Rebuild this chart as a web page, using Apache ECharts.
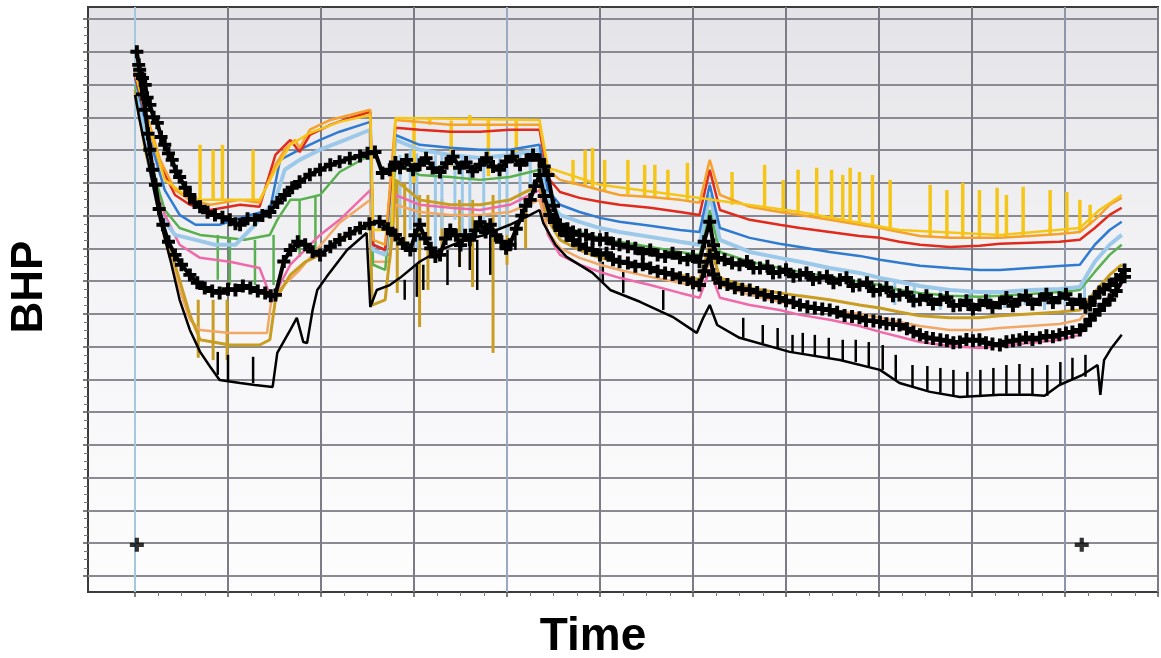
<!DOCTYPE html>
<html>
<head>
<meta charset="utf-8">
<script src="https://cdn.jsdelivr.net/npm/echarts@6/dist/echarts.min.js"></script>
<style>
  html, body { margin: 0; padding: 0; background: #ffffff; }
  #chart { width: 1161px; height: 658px; }
</style>
</head>
<body>
<div id="chart"></div>
<script>
// time in days (grid every 100), BHP in psi (grid every 100)
const timeMax = 1100;
const bhpMax = 1700;

// simulated BHP curves: [time, BHP]
const pink = [[0,1478],[16,1255],[32,1102],[48,1011],[70,971],[102,959],[134,940],[147,843],[167,950],[199,1041],[220,1087],[253,1178],[255,995],[274,980],[280,1163],[306,1133],[339,1124],[371,1117],[403,1133],[435,1178],[444,1041],[457,980],[478,950],[500,928],[521,910],[554,888],[586,864],[607,849],[618,934],[629,849],[661,827],[693,812],[715,797],[747,782],[779,763],[801,745],[822,730],[844,714],[876,702],[908,696],[930,702],[962,711],[994,721],[1016,736],[1032,797],[1048,858],[1061,888]];
const tan = [[0,1468],[16,1240],[32,1026],[48,873],[59,782],[70,751],[102,742],[142,742],[147,852],[177,934],[220,1078],[253,1148],[255,959],[274,959],[280,1133],[306,1111],[339,1102],[371,1102],[403,1111],[435,1148],[444,1050],[457,1001],[478,971],[500,950],[521,934],[554,913],[586,895],[607,882],[618,959],[629,888],[661,858],[693,837],[715,827],[747,812],[779,800],[801,788],[822,775],[844,763],[876,751],[908,751],[930,757],[962,763],[994,769],[1016,782],[1032,843],[1048,888],[1061,919]];
const gold = [[0,1484],[11,1301],[27,1102],[43,950],[59,797],[70,721],[102,705],[134,705],[145,721],[151,843],[167,919],[183,959],[199,980],[220,1026],[253,1072],[255,827],[269,843],[276,1026],[280,1209],[306,1148],[339,1133],[371,1133],[403,1148],[435,1194],[444,1087],[457,1026],[478,995],[500,971],[521,959],[554,940],[586,919],[607,904],[618,1011],[629,910],[661,879],[693,864],[715,855],[747,843],[779,827],[801,818],[822,806],[844,794],[876,788],[908,788],[930,794],[962,800],[994,806],[1016,812],[1032,867],[1048,919],[1061,950]];
const green = [[0,1499],[16,1270],[32,1117],[48,1062],[70,1041],[118,1026],[145,1041],[153,1087],[167,1148],[177,1148],[199,1163],[220,1233],[253,1285],[256,950],[269,934],[280,1255],[306,1224],[339,1218],[371,1209],[403,1218],[435,1240],[444,1117],[457,1072],[478,1050],[500,1032],[521,1020],[554,1004],[586,989],[607,980],[618,1117],[629,989],[661,959],[693,940],[715,928],[747,913],[779,898],[801,888],[822,873],[844,864],[876,855],[908,852],[930,855],[962,861],[994,867],[1016,873],[1032,928],[1048,980],[1061,1011]];
const lightBlue = [[0,1545],[5,1453],[16,1240],[27,1102],[43,1041],[65,1026],[86,1011],[108,1011],[129,1072],[151,1148],[161,1240],[177,1270],[199,1301],[226,1331],[253,1362],[256,995],[269,980],[280,1331],[306,1301],[339,1285],[371,1276],[403,1285],[435,1301],[444,1148],[457,1102],[478,1081],[500,1062],[521,1050],[554,1035],[586,1020],[607,1011],[618,1163],[629,1026],[661,989],[693,971],[715,959],[747,940],[779,925],[801,910],[822,898],[844,885],[876,873],[908,867],[930,867],[962,873],[994,876],[1016,882],[1032,959],[1048,1011],[1061,1041]];
const blue = [[0,1520],[16,1331],[32,1178],[48,1102],[65,1072],[91,1072],[124,1102],[145,1117],[156,1270],[177,1301],[199,1331],[220,1356],[253,1386],[256,1011],[269,995],[280,1346],[306,1316],[339,1307],[371,1301],[403,1301],[435,1316],[444,1178],[457,1133],[478,1111],[500,1093],[521,1081],[554,1069],[586,1056],[607,1050],[618,1194],[629,1062],[661,1032],[693,1014],[715,1004],[747,989],[779,977],[801,965],[822,956],[844,947],[876,940],[908,934],[930,934],[962,940],[994,946],[1016,950],[1032,1011],[1048,1056],[1061,1081]];
const red = [[0,1530],[11,1407],[27,1255],[43,1163],[59,1133],[81,1117],[113,1133],[134,1127],[151,1285],[167,1331],[177,1294],[188,1346],[210,1377],[231,1398],[253,1417],[256,1011],[269,995],[280,1368],[306,1362],[339,1356],[371,1356],[403,1362],[435,1362],[444,1215],[457,1172],[478,1154],[500,1142],[521,1133],[554,1124],[586,1111],[607,1102],[618,1240],[629,1117],[661,1087],[693,1072],[715,1062],[747,1050],[779,1038],[801,1032],[822,1020],[844,1011],[876,1004],[908,1008],[930,1014],[962,1017],[994,1020],[1016,1026],[1032,1062],[1048,1102],[1061,1124]];
const orange = [[0,1545],[11,1423],[27,1270],[43,1178],[59,1148],[81,1133],[113,1148],[134,1139],[151,1255],[161,1301],[172,1331],[177,1307],[188,1362],[210,1392],[231,1407],[253,1423],[256,1026],[269,1011],[280,1392],[306,1386],[339,1377],[371,1377],[403,1377],[435,1377],[444,1240],[457,1209],[478,1194],[500,1178],[521,1163],[554,1157],[586,1148],[607,1139],[618,1270],[629,1163],[661,1127],[693,1111],[715,1102],[747,1087],[779,1072],[801,1062],[822,1050],[844,1038],[876,1032],[908,1032],[930,1032],[962,1038],[994,1044],[1016,1050],[1032,1087],[1048,1133],[1061,1154]];
const yellow = [[0,1539],[16,1362],[32,1209],[54,1163],[70,1148],[102,1148],[134,1148],[151,1240],[167,1316],[188,1352],[220,1386],[253,1407],[256,1056],[276,1056],[280,1398],[435,1392],[444,1246],[500,1194],[607,1154],[715,1111],[822,1056],[930,1041],[1016,1062],[1037,1117],[1061,1163]];
const blackLine = [[0,1468],[5,1392],[16,1240],[27,1087],[38,965],[48,843],[59,751],[70,684],[81,638],[91,598],[113,589],[129,583],[148,577],[153,681],[167,751],[174,788],[181,714],[185,711],[191,812],[196,873],[206,913],[228,995],[249,1047],[253,821],[260,873],[274,888],[285,910],[306,959],[328,995],[355,1026],[376,1041],[403,1072],[425,1102],[435,1117],[439,1078],[452,1011],[464,974],[492,925],[511,873],[543,837],[578,791],[604,742],[611,788],[618,827],[626,766],[650,727],[704,684],[758,659],[801,629],[822,589],[855,562],[887,546],[930,553],[962,553],[978,550],[994,583],[1019,614],[1035,644],[1038,553],[1042,659],[1050,696],[1061,736]];

// observed BHP (plus markers): [time, BHP]
const obsUpper = [[2,1600],[4,1560],[5,1545],[8,1520],[11,1499],[13,1460],[16,1438],[20,1400],[24,1383],[28,1340],[32,1316],[36,1290],[40,1270],[44,1235],[48,1218],[54,1185],[59,1163],[64,1140],[70,1127],[78,1110],[86,1102],[94,1095],[102,1087],[108,1075],[113,1072],[121,1090],[129,1087],[137,1100],[145,1111],[153,1140],[161,1163],[169,1185],[177,1203],[188,1225],[199,1240],[210,1255],[220,1264],[231,1275],[242,1282],[250,1290],[258,1294],[266,1230],[274,1240],[280,1262],[285,1246],[292,1270],[299,1240],[306,1255],[313,1275],[320,1245],[328,1233],[335,1260],[342,1280],[349,1246],[356,1262],[363,1235],[371,1255],[378,1275],[385,1250],[392,1240],[399,1265],[406,1280],[414,1255],[421,1270],[428,1285],[435,1270],[440,1250],[444,1224],[450,1130],[457,1072],[465,1060],[471,1050],[478,1041],[485,1040],[492,1030],[500,1026],[507,1030],[514,1015],[521,1011],[530,1005],[538,1000],[546,985],[554,995],[562,980],[570,975],[578,985],[586,971],[594,965],[600,975],[607,959],[612,1020],[618,1081],[622,1010],[627,971],[634,965],[642,955],[650,950],[658,960],[665,940],[672,940],[680,945],[686,925],[693,928],[700,935],[708,915],[715,919],[722,925],[729,905],[736,910],[744,915],[751,895],[758,904],[765,910],[772,885],[779,888],[787,895],[794,870],[801,873],[808,880],[815,855],[822,858],[830,865],[837,840],[844,843],[851,855],[858,830],[866,843],[873,850],[880,825],[887,827],[894,840],[901,815],[908,827],[915,840],[922,820],[930,833],[937,850],[944,825],[951,843],[958,855],[965,830],[973,843],[980,860],[987,835],[994,849],[1001,860],[1008,830],[1016,843],[1022,820],[1027,827],[1032,850],[1037,867],[1042,875],[1048,888],[1055,905],[1064,934]];
const obsLower = [[5,1530],[8,1470],[11,1423],[14,1350],[16,1301],[19,1240],[22,1194],[26,1120],[30,1072],[36,1020],[43,980],[50,950],[59,919],[67,895],[75,879],[83,870],[91,864],[100,875],[108,873],[116,885],[124,879],[132,870],[140,864],[146,855],[151,858],[160,960],[167,995],[175,1020],[183,1011],[191,990],[199,980],[210,1005],[220,1026],[231,1045],[242,1062],[252,1075],[263,1081],[272,1060],[280,1041],[288,1015],[296,995],[301,1040],[306,1072],[312,1030],[318,1000],[323,975],[328,980],[334,1030],[339,1056],[345,1040],[350,1010],[355,1040],[360,1026],[366,1055],[371,1080],[377,1050],[382,1072],[388,1040],[394,1020],[399,1000],[403,1011],[410,1060],[416,1100],[420,1130],[425,1148],[430,1190],[435,1224],[440,1160],[446,1102],[451,1080],[457,1056],[464,1040],[471,1025],[478,1011],[485,1000],[492,995],[500,980],[507,985],[514,965],[521,959],[530,955],[538,945],[546,950],[554,940],[562,930],[570,925],[578,920],[586,910],[594,905],[600,895],[607,888],[612,930],[618,980],[622,920],[629,895],[637,890],[645,880],[653,875],[661,873],[669,865],[677,858],[685,852],[693,849],[700,840],[708,835],[715,827],[723,822],[731,818],[739,815],[747,812],[755,805],[763,795],[771,792],[779,788],[786,780],[794,778],[801,775],[808,770],[815,768],[822,766],[830,755],[837,745],[844,736],[851,728],[858,725],[866,721],[873,718],[880,712],[887,714],[894,722],[901,718],[908,721],[915,712],[922,708],[930,705],[937,715],[944,718],[951,721],[958,728],[965,722],[973,727],[980,733],[987,730],[994,736],[1001,742],[1008,745],[1016,751],[1022,765],[1027,782],[1032,798],[1037,812],[1042,828],[1048,843],[1055,870],[1064,913]];
const obsSingle = [[2,95],[1018,95]];

// short spikes on the curves: [time, BHP from, BHP to]
const yellowSpikes = [[70,1148,1316],[84,1148,1301],[94,1148,1316],[127,1148,1301],[300,1392,1200],[317,1377,1398],[340,1390,1250],[360,1377,1407],[380,1392,1220],[410,1392,1270],[471,1194,1270],[484,1188,1301],[492,1185,1307],[505,1178,1270],[530,1166,1270],[548,1160,1255],[559,1157,1255],[573,1154,1240],[594,1148,1261],[642,1133,1233],[677,1117,1255],[697,1111,1209],[713,1105,1240],[733,1099,1246],[749,1093,1240],[761,1090,1224],[769,1087,1246],[779,1081,1233],[793,1072,1224],[812,1062,1209],[855,1038,1194],[873,1035,1178],[890,1035,1200],[908,1032,1178],[927,1032,1185],[937,1035,1163],[955,1038,1188],[984,1044,1178],[1002,1047,1172],[1016,1050,1148],[1027,1072,1133]];
const lightBlueSpikes = [[285,1285,1100],[296,1301,1056],[303,1290,1000],[323,1285,995],[330,1290,1060],[344,1285,1087],[352,1280,1000],[360,1276,1026],[375,1280,1080],[392,1285,1056],[400,1285,1040],[414,1285,1117],[425,1290,1150],[817,898,827],[838,888,818],[866,876,812],[898,867,806],[919,867,843],[935,867,818],[957,873,827],[978,876,812],[1000,879,827],[1021,888,843]];
const greenSpikes = [[89,1041,904],[102,1035,888],[129,1026,888],[149,1041,888],[177,1148,974],[194,1163,980]];
const goldSpikes = [[68,843,666],[84,843,659],[99,843,659],[282,1209,864],[290,1200,1000],[306,1163,760],[315,1163,873],[330,1150,1000],[349,1148,943],[363,1148,882],[385,1163,681],[400,1150,950],[420,1160,1000]];
const blackSpikes = [[89,614,684],[100,598,675],[127,589,669],[290,904,843],[303,950,852],[310,950,873],[336,995,888],[349,1004,943],[360,1026,934],[368,1026,873],[382,1041,919],[409,1072,995],[503,898,959],[525,864,934],[568,812,873],[654,727,788],[675,711,766],[691,696,757],[707,684,736],[718,681,742],[731,672,736],[746,666,727],[761,659,721],[775,653,721],[789,641,714],[804,629,705],[818,598,675],[836,577,644],[852,568,641],[866,559,635],[880,550,629],[895,546,623],[909,546,629],[923,550,635],[937,556,644],[951,556,647],[965,553,635],[981,550,644],[995,583,653],[1008,598,666],[1022,608,675]];

const chart = echarts.init(document.getElementById('chart'));

const plus = 'path://M0,3.5H10V6.5H0Z M3.5,0H6.5V10H3.5Z';
const dataGrid = 3;

function lineSeries(name, data, color, width) {
  return {
    name, type: 'line', data,
    xAxisIndex: dataGrid, yAxisIndex: dataGrid,
    showSymbol: false, smooth: false,
    lineStyle: { color, width },
    z: 3,
  };
}

function spikeSeries(name, data, color, width) {
  return {
    name, type: 'custom', data,
    xAxisIndex: dataGrid, yAxisIndex: dataGrid,
    z: 3,
    renderItem: (params, api) => {
      const a = api.coord([api.value(0), api.value(1)]);
      const b = api.coord([api.value(0), api.value(2)]);
      return {
        type: 'line',
        shape: { x1: a[0], y1: a[1], x2: b[0], y2: b[1] },
        style: { stroke: color, lineWidth: width },
      };
    },
  };
}

function plusSeries(name, data, width) {
  return {
    name, type: 'line', data,
    xAxisIndex: dataGrid, yAxisIndex: dataGrid,
    symbol: plus, symbolSize: 13, showAllSymbol: true,
    itemStyle: { color: '#000' },
    lineStyle: { color: '#000', width },
    z: 5,
  };
}

const gridGray = '#7c7c86';
const vColors = ['#a6c8de', gridGray, gridGray, gridGray, '#9aa8c0', gridGray, gridGray, gridGray, gridGray, gridGray, '#8e96aa', gridGray];

const option = {
  animation: false,
  backgroundColor: '#ffffff',
  grid: [
    // frame + shaded background
    { left: 88, top: 7, right: 3, bottom: 66, show: true, z: -1,
      borderColor: '#3c3c3c', borderWidth: 2,
      backgroundColor: { type: 'linear', x: 0, y: 0, x2: 0, y2: 1,
        colorStops: [{ offset: 0, color: '#e4e4e8' }, { offset: 0.5, color: '#f5f5f7' }, { offset: 1, color: '#fdfdfe' }] } },
    // time grid lines
    { left: 135, top: 7, right: 3, bottom: 66 },
    // BHP grid lines
    { left: 88, top: 19, right: 3, bottom: 82 },
    // data
    { left: 135, top: 19, right: 3, bottom: 82 },
  ],
  xAxis: [
    { gridIndex: 0, type: 'value', min: 0, max: 1, show: false },
    { gridIndex: 1, type: 'value', min: 0, max: timeMax, interval: 100,
      axisLine: { show: false }, axisLabel: { show: false },
      axisTick: { show: true, length: 5, lineStyle: { color: '#555', width: 1.5 } },
      minorTick: { show: true, splitNumber: 4, length: 4, lineStyle: { color: '#777' } },
      splitLine: { show: true, lineStyle: { color: vColors, width: 2 } } },
    { gridIndex: 2, type: 'value', min: 0, max: 1, show: false },
    { gridIndex: 3, type: 'value', min: 0, max: timeMax, show: false },
  ],
  yAxis: [
    { gridIndex: 0, type: 'value', min: 0, max: 1, show: false },
    { gridIndex: 1, type: 'value', min: 0, max: 1, show: false },
    { gridIndex: 2, type: 'value', min: 0, max: bhpMax, interval: 100,
      axisLine: { show: false }, axisLabel: { show: false },
      axisTick: { show: true, length: 5, lineStyle: { color: '#555', width: 1.5 } },
      minorTick: { show: true, splitNumber: 4, length: 4, lineStyle: { color: '#777' } },
      splitLine: { show: true, lineStyle: { color: '#8a8a92', width: 2 } } },
    { gridIndex: 3, type: 'value', min: 0, max: bhpMax, show: false },
  ],
  graphic: [
    { type: 'text', x: 30, y: 287, rotation: Math.PI / 2,
      style: { text: 'BHP', fill: '#000', font: 'bold 44px "Liberation Sans", Arial, sans-serif',
        align: 'center', verticalAlign: 'middle' } },
    { type: 'text', x: 593, y: 637,
      style: { text: 'Time', fill: '#000', font: 'bold 46px "Liberation Sans", Arial, sans-serif',
        align: 'center', verticalAlign: 'middle' } },
  ],
  series: [
    lineSeries('pink', pink, '#f06aaa', 2.5),
    lineSeries('tan', tan, '#f1a866', 2.5),
    lineSeries('gold', gold, '#c89d22', 3),
    spikeSeries('gold spikes', goldSpikes, '#c89d22', 3),
    lineSeries('green', green, '#58b04f', 2.5),
    spikeSeries('green spikes', greenSpikes, '#58b04f', 2.5),
    lineSeries('light blue', lightBlue, '#9cc9ea', 4),
    spikeSeries('light blue spikes', lightBlueSpikes, '#9cc9ea', 3),
    lineSeries('blue', blue, '#2f7bd2', 2.5),
    lineSeries('red', red, '#e02a1c', 2.5),
    lineSeries('orange', orange, '#f5a12c', 2.5),
    lineSeries('yellow', yellow, '#f5c518', 2.5),
    spikeSeries('yellow spikes', yellowSpikes, '#f5c518', 3.5),
    lineSeries('black', blackLine, '#000000', 2.5),
    spikeSeries('black spikes', blackSpikes, '#000000', 2.5),
    plusSeries('observed lower', obsLower, 4),
    plusSeries('observed upper', obsUpper, 4),
    {
      name: 'observed single', type: 'scatter', data: obsSingle,
      xAxisIndex: dataGrid, yAxisIndex: dataGrid,
      symbol: plus, symbolSize: 14, itemStyle: { color: '#000' }, z: 5,
    },
  ],
};

chart.setOption(option);
</script>
</body>
</html>
